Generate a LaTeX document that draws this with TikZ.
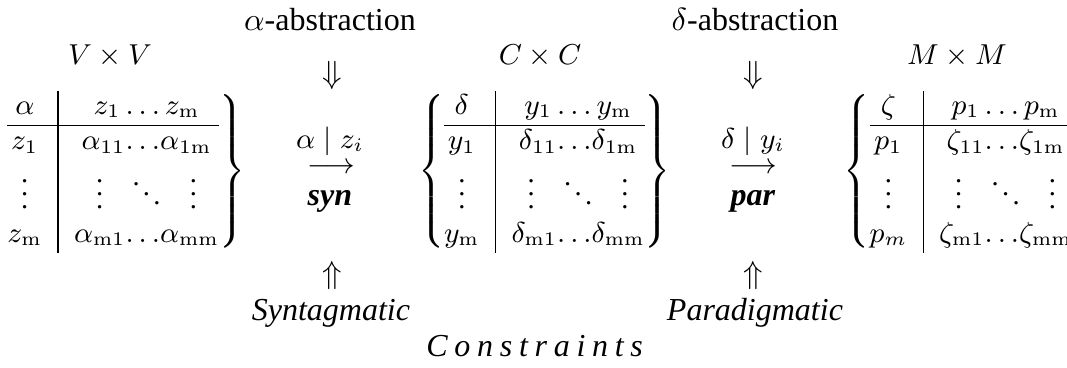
\documentclass[tikz,border=0pt]{standalone}
\usepackage{amsmath,amssymb}
\usepackage[no-math]{fontspec}
\setmainfont{Liberation Serif}
\usepackage{tikz}
\usetikzlibrary{positioning}

\tikzset{
  lbl/.style={inner sep=0pt, anchor=base},
  mth/.style={lbl, font=\fontsize{8.9}{10.7}\selectfont},
  sym/.style={inner sep=0pt},
  tabnode/.style={inner sep=0pt, anchor=west, font=\fontsize{8.9}{10.7}\selectfont}
}

\begin{document}
\begin{tikzpicture}[font=\normalsize]

  \useasboundingbox (0,0) rectangle (11.719,4.031);

  % ================= TABLES =================
  % V x V (syntagmatic)
  \node[mth] (vvhead) at (1.208, 3.317) {$V\times V$};
  \node[tabnode] (vvtab) at (0.033, 2.147)
    {$\left.\begin{array}{@{}c|c@{}}
      \alpha & z_1\,{\ldots}\,z_{\mathrm{m}}\\ \hline
      z_1 & \alpha_{11}{\ldots}\alpha_{1\mathrm{m}}\\
      \vdots & \vdots\hspace{0.8em}\ddots\hspace{0.8em}\vdots\\
      z_{\mathrm{m}} & \alpha_{\mathrm{m}1}{\ldots}\alpha_{\mathrm{mm}}
    \end{array}\right\}$};

  % C x C (paradigmatic)
  \node[mth] (cchead) at (5.931, 3.317) {$C\times C$};
  \node[tabnode] (cctab) at (4.585, 2.147)
    {$\left\{\begin{array}{@{}c|c@{}}
      \delta & y_1\,{\ldots}\,y_{\mathrm{m}}\\ \hline
      y_1 & \delta_{11}{\ldots}\delta_{1\mathrm{m}}\\
      \vdots & \vdots\hspace{0.8em}\ddots\hspace{0.8em}\vdots\\
      y_{\mathrm{m}} & \delta_{\mathrm{m}1}{\ldots}\delta_{\mathrm{mm}}
    \end{array}\right\}$};

  % M x M
  \node[mth] (mmhead) at (10.511, 3.317) {$M\times M$};
  \node[tabnode] (mmtab) at (9.259, 2.147)
    {$\left\{\begin{array}{@{}c|c@{}}
      \zeta & p_1\,{\ldots}\,p_{\mathrm{m}}\\ \hline
      p_1 & \zeta_{11}{\ldots}\zeta_{1\mathrm{m}}\\
      \vdots & \vdots\hspace{0.8em}\ddots\hspace{0.8em}\vdots\\
      p_m & \zeta_{\mathrm{m}1}{\ldots}\zeta_{\mathrm{mm}}
    \end{array}\right.$};

  % ================= SYN STEP =================
  \node[lbl] (alphaabs) at (3.624, 3.701) {$\alpha$-abstraction};
  \node[sym] (synin) at (3.646, 3.207) {$\Downarrow$};
  \node[mth] (synlab) at (3.624, 2.405) {$\alpha \mid z_i$};
  \node[mth] (synarr) at (3.635, 2.125) {$\longrightarrow$};
  \node[lbl] (synname) at (3.624, 1.779) {\textbf{\textit{syn}}};
  \node[sym] (synout) at (3.646, 1.010) {$\Uparrow$};
  \node[lbl] (syntag) at (3.635, 0.516) {\textit{Syntagmatic}};

  % ================= PAR STEP =================
  \node[lbl] (deltaabs) at (8.292, 3.701) {$\delta$-abstraction};
  \node[sym] (parin) at (8.270, 3.207) {$\Downarrow$};
  \node[mth] (parlab) at (8.270, 2.405) {$\delta \mid y_i$};
  \node[mth] (pararr) at (8.270, 2.125) {$\longrightarrow$};
  \node[lbl] (parname) at (8.270, 1.779) {\textbf{\textit{par}}};
  \node[sym] (parout) at (8.270, 1.010) {$\Uparrow$};
  \node[lbl] (paradig) at (8.292, 0.516) {\textit{Paradigmatic}};

  % constraints
  \node[lbl] (constr) at (5.909, 0.110)
    {\textit{\addfontfeature{LetterSpace=21}Constraints}};

\end{tikzpicture}
\end{document}
